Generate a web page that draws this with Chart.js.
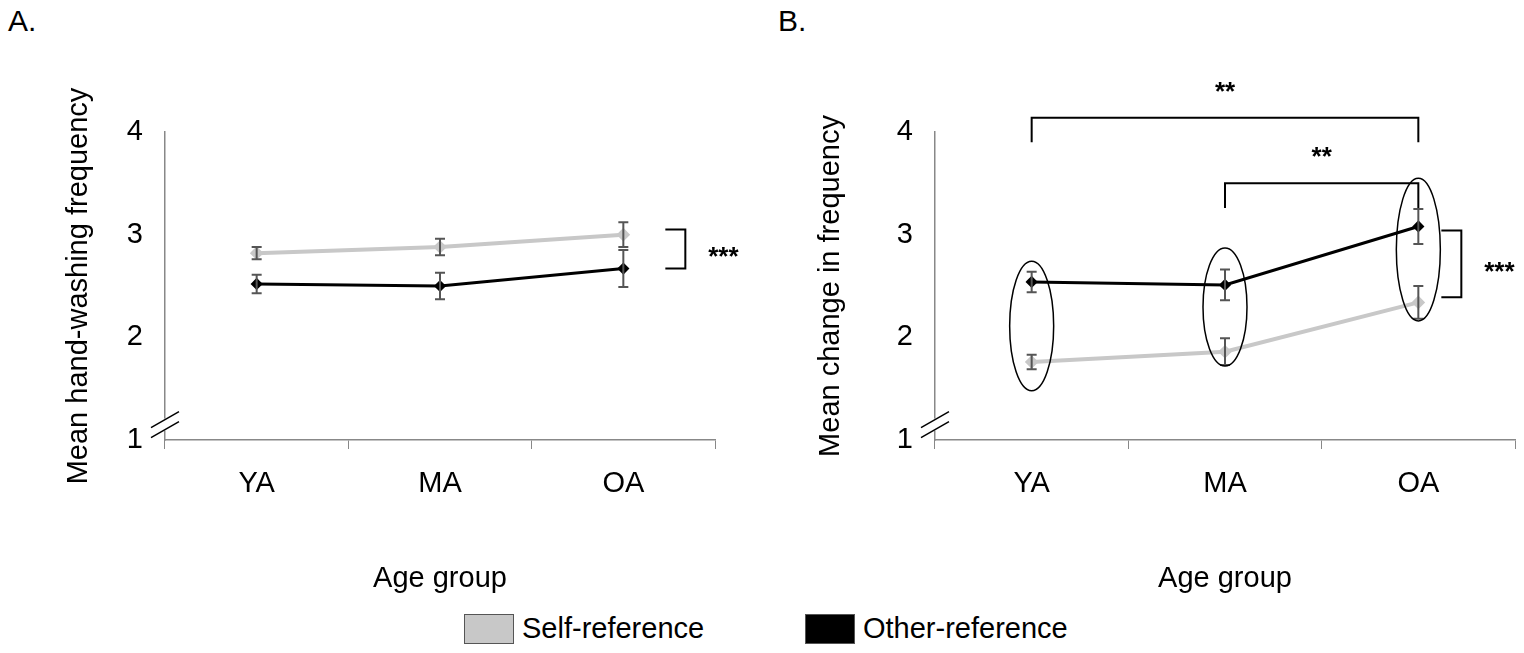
<!DOCTYPE html>
<html><head><meta charset="utf-8">
<script src="https://cdn.jsdelivr.net/npm/chart.js@4"></script>
<style>
body{margin:0;width:1524px;height:653px;background:#fff;font-family:"Liberation Sans",Arial,sans-serif;position:relative;overflow:hidden}
.panel{position:absolute;top:0;height:600px}
.lbl{position:absolute;top:4px;font-size:30px}
.leg{position:absolute;top:612px;font-size:29px;display:flex;align-items:center}
.sw{width:50px;height:30px;margin-right:8px;border:1px solid #555;box-sizing:border-box}
</style></head><body>
<div class="lbl" style="left:8px">A.</div>
<div class="lbl" style="left:778px">B.</div>
<div class="panel" style="left:0;width:760px"><canvas id="a"></canvas></div>
<div class="panel" style="left:760px;width:764px"><canvas id="b"></canvas></div>
<div class="leg" style="left:464px"><div class="sw" style="background:#c8c8c8"></div>Self-reference</div>
<div class="leg" style="left:805px"><div class="sw" style="background:#000"></div>Other-reference</div>
<script>
const groups = ["YA", "MA", "OA"];
// panel A
const selfA = [2.82, 2.88, 3.00];
const selfAErr = [0.06, 0.08, 0.12];
const otherA = [2.52, 2.50, 2.67];
const otherAErr = [0.09, 0.13, 0.18];
// panel B
const selfB = [1.76, 1.86, 2.34];
const selfBErr = [0.07, 0.13, 0.16];
const otherB = [2.54, 2.51, 3.08];
const otherBErr = [0.10, 0.15, 0.17];
const ellipseLo = [1.48, 1.72, 2.16];
const ellipseHi = [2.74, 2.87, 3.55];

const font = "Liberation Sans";

const extras = {
  id: "extras",
  afterDatasetsDraw(chart, args, o) {
    const c = chart.ctx, x = chart.scales.x, y = chart.scales.y;
    c.save();
    // error bars
    c.strokeStyle = "#555"; c.lineWidth = 2;
    o.err.forEach(([vals, errs]) => vals.forEach((v, i) => {
      const px = x.getPixelForValue(i), t = y.getPixelForValue(v + errs[i]), b = y.getPixelForValue(v - errs[i]);
      c.beginPath();
      c.moveTo(px, t); c.lineTo(px, b);
      c.moveTo(px - 5, t); c.lineTo(px + 5, t);
      c.moveTo(px - 5, b); c.lineTo(px + 5, b);
      c.stroke();
    }));
    // axis break
    c.strokeStyle = "#000"; c.lineWidth = 1.5;
    const ax = chart.chartArea.left, by = y.getPixelForValue(1.15);
    c.fillStyle = "#fff"; c.fillRect(ax - 3, by - 6, 6, 12);
    [-5, 5].forEach(d => { c.beginPath(); c.moveTo(ax - 14, by + d + 8); c.lineTo(ax + 14, by + d - 8); c.stroke(); });
    // ellipses
    if (o.ellipses) {
      c.lineWidth = 1.5;
      o.ellipses[0].forEach((lo, i) => {
        const px = x.getPixelForValue(i), t = y.getPixelForValue(o.ellipses[1][i]), b = y.getPixelForValue(lo);
        c.beginPath(); c.ellipse(px, (t + b) / 2, 22, (b - t) / 2, 0, 0, Math.PI * 2); c.stroke();
      });
    }
    // brackets
    c.lineWidth = 2; c.fillStyle = "#000"; c.font = "bold 26px " + font; c.textAlign = "center";
    o.side.forEach(s => {
      const px = x.getPixelForValue(2) + s.dx, t = y.getPixelForValue(s.hi), b = y.getPixelForValue(s.lo);
      c.beginPath(); c.moveTo(px, t); c.lineTo(px + 20, t); c.lineTo(px + 20, b); c.lineTo(px, b); c.stroke();
      c.fillText("***", px + 58, (t + b) / 2 + 16);
    });
    (o.top || []).forEach(s => {
      const x1 = x.getPixelForValue(s.from), x2 = x.getPixelForValue(2), t = y.getPixelForValue(s.at), b = y.getPixelForValue(s.at - 0.24);
      c.beginPath(); c.moveTo(x1, b); c.lineTo(x1, t); c.lineTo(x2, t); c.lineTo(x2, b); c.stroke();
      c.fillText("**", (x1 + x2) / 2, t - 18);
    });
    c.restore();
  }
};

function make(id, self, other, ytitle, yw, padR, plug) {
  new Chart(document.getElementById(id), {
    type: "line",
    data: {
      labels: groups,
      datasets: [
        { label: "Self-reference", data: self, borderColor: "#c8c8c8", backgroundColor: "#c8c8c8", borderWidth: 4, pointStyle: "rectRot", pointRadius: 4 },
        { label: "Other-reference", data: other, borderColor: "#000", backgroundColor: "#000", borderWidth: 3, pointStyle: "rectRot", pointRadius: 4 }
      ]
    },
    options: {
      responsive: false, animation: false,
      layout: { padding: { top: 132, right: padR, left: 0, bottom: 0 } },
      plugins: { legend: { display: false }, tooltip: { enabled: false }, extras: plug },
      scales: {
        x: {
          offset: true,
          grid: { offset: true, drawOnChartArea: false, tickLength: 9, color: "#888" },
          border: { color: "#888", width: 1.5 },
          ticks: { color: "#000", font: { family: font, size: 29 }, padding: 18 },
          title: { display: true, text: "Age group", color: "#000", font: { family: font, size: 29 }, padding: { top: 0 } },
          afterFit: s => { s.height = 160; }
        },
        y: {
          min: 1, max: 4,
          ticks: { stepSize: 1, color: "#000", font: { family: font, size: 29 }, padding: 22 },
          grid: { drawOnChartArea: false, tickLength: 0 },
          border: { color: "#888", width: 1.5 },
          title: { display: true, text: ytitle, color: "#000", font: { family: font, size: 29 }, padding: { top: yw === 175 ? 54 : 62 } },
          afterFit: s => { s.width = yw; }
        }
      }
    },
    plugins: [extras]
  });
}
document.getElementById("a").width = 760; document.getElementById("a").height = 600;
document.getElementById("b").width = 764; document.getElementById("b").height = 600;

make("a", selfA, otherA, "Mean hand-washing frequency", 165, 45, {
  err: [[selfA, selfAErr], [otherA, otherAErr]],
  side: [{ hi: 3.05, lo: 2.67, dx: 42 }]
});
make("b", selfB, otherB, "Mean change in frequency", 175, 9, {
  err: [[selfB, selfBErr], [otherB, otherBErr]],
  ellipses: [ellipseLo, ellipseHi],
  side: [{ hi: 3.04, lo: 2.39, dx: 23 }],
  top: [{ from: 0, at: 4.14 }, { from: 1, at: 3.50 }]
});
</script>
</body></html>
